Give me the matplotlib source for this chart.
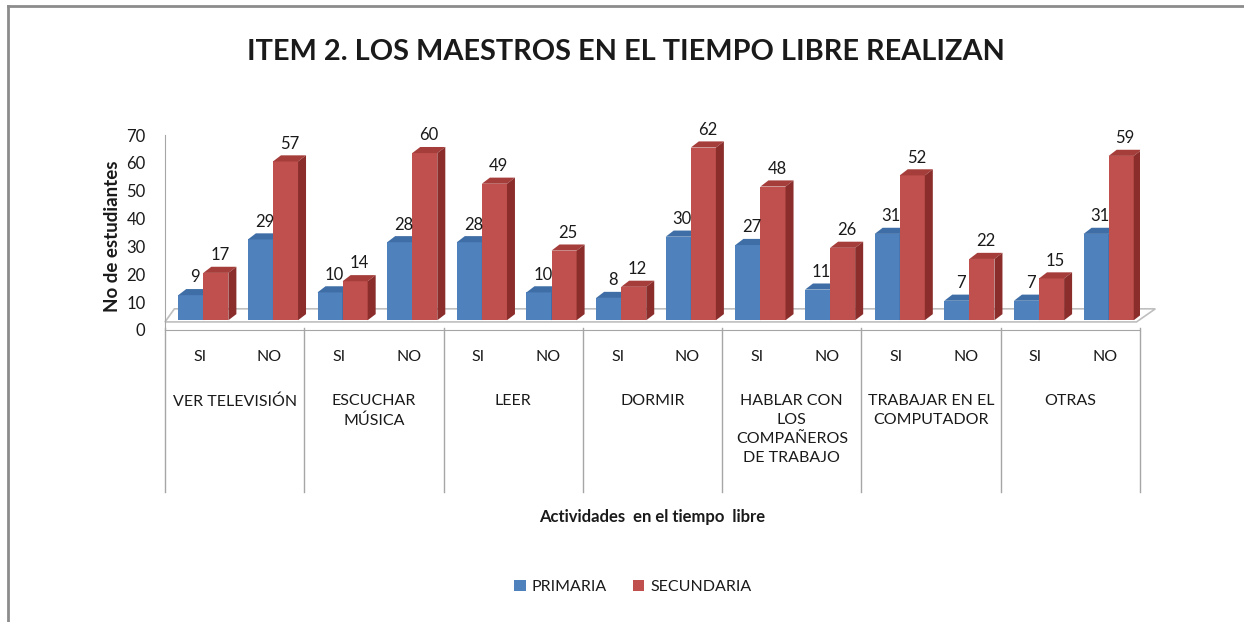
import numpy as np
import matplotlib
matplotlib.use('Agg')
import matplotlib.pyplot as plt
from matplotlib.patches import Polygon, Rectangle
from matplotlib.lines import Line2D

plt.rcParams['font.family'] = ['Lato', 'DejaVu Sans']
plt.rcParams['text.color'] = '#1A1A1A'
plt.rcParams['ytick.color'] = '#1A1A1A'

# data
groups = ['VER TELEVISIÓN', 'ESCUCHAR\nMÚSICA', 'LEER', 'DORMIR',
          'HABLAR CON\nLOS\nCOMPAÑEROS\nDE TRABAJO', 'TRABAJAR EN EL\nCOMPUTADOR', 'OTRAS']
answers = ['SI', 'NO']
primaria = [9, 29, 10, 28, 28, 10, 8, 30, 27, 11, 31, 7, 7, 31]
secundaria = [17, 57, 14, 60, 49, 25, 12, 62, 48, 26, 52, 22, 15, 59]
series_names = ['PRIMARIA', 'SECUNDARIA']

front = ['#4F81BD', '#C0504D']
top = ['#3F6EA6', '#A53E3B']
side = ['#36598A', '#8A2D2B']

W, H = 1244, 622
fig = plt.figure(figsize=(W / 100, H / 100), dpi=100)

# axes placed in pixel terms of the reference
x0, x1, y0, y1 = 165, 1140, 330, 135
ax = fig.add_axes([x0 / W, 1 - y0 / H, (x1 - x0) / W, (y0 - y1) / H])
ax.set_xlim(-0.5, 13.5)
ax.set_ylim(0, 70)
ax.set_yticks(range(0, 71, 10))
ax.tick_params(axis='y', length=0, pad=14, labelsize=12)
ax.set_xticks([])
for s in ['top', 'right']:
    ax.spines[s].set_visible(False)
ax.spines['left'].set_color('#A6A6A6')
ax.spines['bottom'].set_color('#A6A6A6')

# floor of the 3d chart
fl_front, fl_back, fl_dx = 2.9, 7.6, 0.27
ax.add_patch(Polygon([(-0.5, fl_front), (13.45, fl_front), (13.45 + fl_dx, fl_back),
                      (-0.5 + fl_dx * 0.5, fl_back)], closed=True, clip_on=False,
                     facecolor='white', edgecolor='#BFBFBF', lw=1.2, zorder=1))

base = 3.5
bw = 0.36
ddx, ddy = 0.115, 2.2
shift = 0.05
x = np.arange(len(primaria))
for k, vals in enumerate([primaria, secundaria]):
    for i, v in enumerate(vals):
        left = x[i] + shift + (k - 1) * bw
        right = left + bw
        ytop = base + v
        z = 3 + k
        ax.add_patch(Rectangle((left, base), bw, v, facecolor=front[k], edgecolor='none', zorder=z))
        ax.add_patch(Polygon([(left, ytop), (right, ytop), (right + ddx, ytop + ddy),
                              (left + ddx, ytop + ddy)], closed=True,
                             facecolor=top[k], edgecolor='none', zorder=z))
        ax.add_patch(Polygon([(right, base), (right + ddx, base + ddy),
                              (right + ddx, ytop + ddy), (right, ytop)], closed=True,
                             facecolor=side[k], edgecolor='none', zorder=z))
        ax.text((left + right + ddx) / 2, ytop + ddy + 1.3, str(v), ha='center', va='bottom',
                fontsize=12, zorder=6, clip_on=False)

# category axis (two tiers)
tr = ax.get_xaxis_transform()
def fy(p):
    return (y0 - p) / (y0 - y1)

for b in np.arange(-0.5, 14, 2):
    ax.plot([b, b], [fy(328), fy(492)], color='#A6A6A6', lw=1, transform=tr, clip_on=False)
for i in range(len(primaria)):
    ax.text(x[i], fy(357), answers[i % 2], ha='center', va='center', fontsize=11.5,
            transform=tr)
for g, name in enumerate(groups):
    ax.text(2 * g + 0.5, fy(394), name, ha='center', va='top', fontsize=11.5,
            linespacing=1.45, transform=tr)

ax.text(0.5, fy(517), 'Actividades  en el tiempo  libre', ha='center', va='center',
        fontsize=12, fontweight='bold', transform=ax.transAxes)
ax.text((112 - x0) / (x1 - x0), fy(236), 'No de estudiantes', rotation=90, ha='center',
        va='center', fontsize=13.5, fontweight='bold', transform=ax.transAxes)

fig.text(0.503, 1 - 52 / H, 'ITEM 2. LOS MAESTROS EN EL TIEMPO LIBRE REALIZAN',
         ha='center', va='center', fontsize=20.8, fontweight='bold')

handles = [Rectangle((0, 0), 1, 1, facecolor=c) for c in front]
fig.legend(handles, series_names, loc='center', bbox_to_anchor=(633 / W, 1 - 587 / H),
           ncol=2, frameon=False, fontsize=11.5, handlelength=0.7, handleheight=0.7,
           handletextpad=0.4, columnspacing=1.6)

# chart border (top and left only visible)
fig.add_artist(Line2D([8 / W, 1], [1 - 6 / H, 1 - 6 / H], color='#8C8C8C', lw=2,
                      transform=fig.transFigure))
fig.add_artist(Line2D([8 / W, 8 / W], [0, 1 - 6 / H], color='#8C8C8C', lw=2,
                      transform=fig.transFigure))

fig.savefig('out.png', dpi=100)
